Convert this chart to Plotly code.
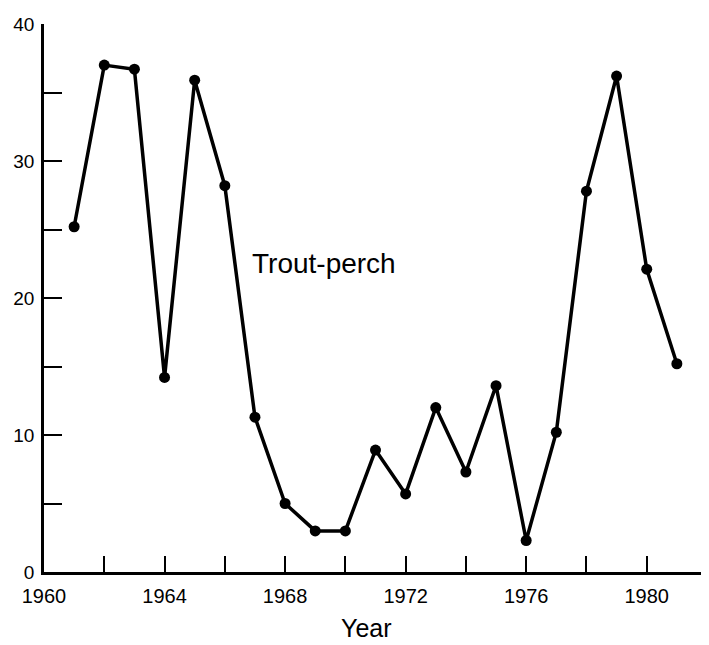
import plotly.graph_objects as go

# trout-perch series
years = [1961, 1962, 1963, 1964, 1965, 1966, 1967, 1968, 1969, 1970, 1971,
         1972, 1973, 1974, 1975, 1976, 1977, 1978, 1979, 1980, 1981]
values = [25.2, 37.0, 36.7, 14.2, 35.9, 28.2, 11.3, 5.0, 3.0, 3.0, 8.9,
          5.7, 12.0, 7.3, 13.6, 2.3, 10.2, 27.8, 36.2, 22.1, 15.2]

x_tick_vals = [1960, 1962, 1964, 1966, 1968, 1970, 1972, 1974, 1976, 1978, 1980, 1982]
x_tick_text = ["1960", "", "1964", "", "1968", "", "1972", "", "1976", "", "1980", ""]
y_tick_vals = [0, 5, 10, 15, 20, 25, 30, 35, 40]
y_tick_text = ["0", "", "10", "", "20", "", "30", "", "40"]

font = "Liberation Sans, Arial, sans-serif"

fig = go.Figure()
fig.add_trace(go.Scatter(
    x=years, y=values, mode="lines+markers",
    line=dict(color="black", width=3.5),
    marker=dict(color="black", size=11),
    showlegend=False,
))

fig.add_annotation(x=1969.3, y=22.5, text="Trout-perch", showarrow=False,
                   font=dict(family=font, size=28, color="black"))
# axis title placed by hand so the margins stay fixed
fig.add_annotation(x=1970.7, y=0, yref="paper", yanchor="middle", yshift=-56,
                   text="Year", showarrow=False,
                   font=dict(family=font, size=25, color="black"))

fig.update_xaxes(
    range=[1960, 1982], tickmode="array", tickvals=x_tick_vals, ticktext=x_tick_text,
    ticks="inside", ticklen=16, tickwidth=2, tickcolor="black",
    showline=True, linecolor="black", linewidth=2.5, showgrid=False, zeroline=False,
    ticklabelstandoff=4, automargin=False,
    tickfont=dict(family=font, size=20, color="black"),
)
fig.update_yaxes(
    range=[0, 40], tickmode="array", tickvals=y_tick_vals, ticktext=y_tick_text,
    ticks="inside", ticklen=18, tickwidth=2, tickcolor="black",
    showline=True, linecolor="black", linewidth=2.5, showgrid=False, zeroline=False,
    ticklabelstandoff=3, automargin=False,
    tickfont=dict(family=font, size=19, color="black"),
)

# page body has an 8px margin, so the figure is shrunk to fit the window
fig.update_layout(
    width=701, height=637,
    margin=dict(l=36, r=2, t=16, b=73),
    plot_bgcolor="white", paper_bgcolor="white",
)

fig.write_html("out.html")
